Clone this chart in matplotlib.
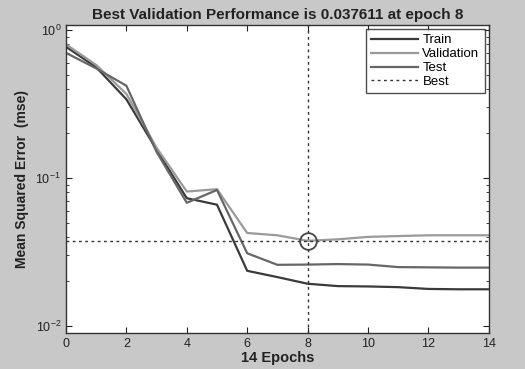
import matplotlib
matplotlib.use("Agg")
import matplotlib.pyplot as plt
import numpy as np
from matplotlib.ticker import LogLocator, NullFormatter

plt.rcParams['font.family'] = ['Liberation Sans', 'DejaVu Sans']

# Performance per epoch
epochs = list(range(15))
train = [0.77, 0.56, 0.34, 0.155, 0.073, 0.066, 0.0236, 0.0214, 0.0193,
         0.0186, 0.0185, 0.0183, 0.0178, 0.0177, 0.0177]
validation = [0.80, 0.58, 0.37, 0.16, 0.081, 0.084, 0.0425, 0.041, 0.037611,
              0.0385, 0.040, 0.0405, 0.041, 0.041, 0.041]
test = [0.70, 0.55, 0.42, 0.15, 0.068, 0.083, 0.031, 0.0259, 0.026,
        0.0262, 0.026, 0.025, 0.0249, 0.0248, 0.0248]
best_epoch = 8
best_value = 0.037611

bg = '#c8c8c8'
fig = plt.figure(figsize=(5.25, 3.69), dpi=100, facecolor=bg)
ax = fig.add_axes([0.1257, 0.0976, 0.8053, 0.8346])

ax.semilogy(epochs, train, color='#3a3a3a', lw=1.6, label='Train')
ax.semilogy(epochs, validation, color='#9a9a9a', lw=1.6, label='Validation')
ax.semilogy(epochs, test, color='#666666', lw=1.6, label='Test')
ax.axhline(best_value, color='#333333', lw=1, ls=(0, (2, 2.5)), label='Best')
ax.axvline(best_epoch, color='#333333', lw=1, ls=(0, (2, 2.5)))
ax.plot([best_epoch], [best_value], 'o', mfc='none', mec='#444444', ms=12, mew=1.3)

ax.set_xlim(0, 14)
ax.set_ylim(0.00897, 1.08)
ax.set_xticks(range(0, 15, 2))
ax.yaxis.set_major_locator(LogLocator(base=10, numticks=5))
ax.yaxis.set_minor_locator(LogLocator(base=10, subs=np.arange(2, 10), numticks=20))
ax.yaxis.set_minor_formatter(NullFormatter())
ax.tick_params(which='both', direction='in', top=True, right=True, labelsize=9, colors='#222222')
ax.tick_params(which='major', length=4)
ax.tick_params(which='minor', length=2)
for s in ax.spines.values():
    s.set_color('#333333')
    s.set_linewidth(1)

ax.set_title('Best Validation Performance is 0.037611 at epoch 8',
             fontsize=11, fontweight='bold', color='#222222', pad=4)
ax.set_xlabel('14 Epochs', fontsize=10.5, fontweight='bold', color='#222222', labelpad=1)
ax.set_ylabel('Mean Squared Error  (mse)', fontsize=10, fontweight='bold', color='#222222', labelpad=5)

leg = ax.legend(loc='upper right', fontsize=9.5, frameon=True, fancybox=False,
                edgecolor='#222222', handlelength=3.6, borderaxespad=0.3,
                labelspacing=0.12, handletextpad=0.3)
leg.get_frame().set_linewidth(1)

fig.savefig('out.png', dpi=100, facecolor=bg)
